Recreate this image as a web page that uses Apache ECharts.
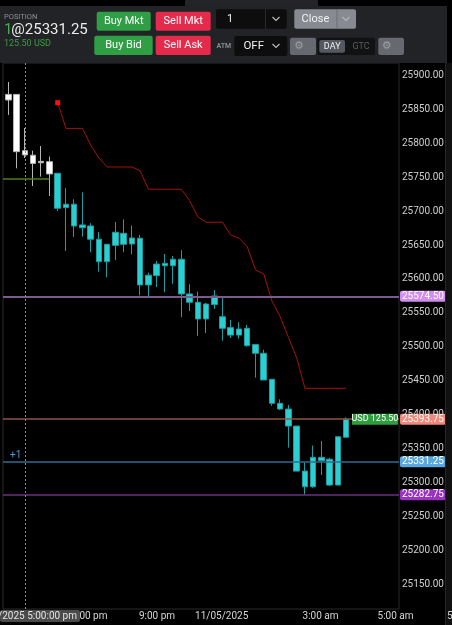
<!DOCTYPE html>
<html>
<head>
<meta charset="utf-8">
<script src="https://cdn.jsdelivr.net/npm/echarts@6/dist/echarts.min.js"></script>
<style>
html, body { margin: 0; padding: 0; background: #000; }
#main { width: 452px; height: 625px; }
</style>
</head>
<body>
<div id="main"></div>
<script>
// bars (15 min), index 0 = first bar on screen
const opens = [25863.25, 25871.5, 25788.75, 25782, 25773, 25772.5, 25755.5, 25710, 25710, 25679.5, 25678, 25658.5, 25651, 25649.5, 25651, 25660.25, 25660, 25605.5, 25605, 25623, 25619.5, 25629, 25578, 25565.75, 25541.25, 25562.5, 25544.5, 25528.5, 25517.5, 25527.5, 25503.5, 25490.75, 25452.5, 25417.25, 25408.75, 25383.75, 25317.5, 25294.5, 25337.75, 25335, 25297, 25367.25]
const closes = [25871.5, 25787.25, 25782.5, 25770, 25771, 25754.5, 25704, 25705, 25678, 25675.5, 25658.5, 25625.5, 25625.5, 25668.75, 25667.25, 25651.5, 25591.25, 25591.25, 25622, 25619.5, 25629, 25578, 25565.75, 25541.25, 25563.25, 25575, 25527.5, 25517.5, 25526.5, 25502, 25490.75, 25451.5, 25417.25, 25408.75, 25383.75, 25317.5, 25294.5, 25337.75, 25332.75, 25297, 25368, 25393.75]
const lows = [25841.25, 25762.75, 25778, 25736.75, 25750.5, 25722, 25700, 25641.25, 25661.75, 25662.25, 25639.25, 25610.75, 25602.5, 25628, 25639.25, 25636.25, 25576, 25574.5, 25588.25, 25580.5, 25593, 25543.75, 25553, 25516.5, 25520.5, 25556, 25509.25, 25513.25, 25512.25, 25500.5, 25455, 25451.5, 25413.75, 25407.5, 25352, 25317.5, 25282.75, 25293, 25311.75, 25295.5, 25297, 25367.25]
const highs = [25889.75, 25872, 25822, 25788.75, 25795.5, 25780, 25755.5, 25733.5, 25717.25, 25727.5, 25682, 25669, 25651, 25683.75, 25687.75, 25678.5, 25664.75, 25609.25, 25626.5, 25636.75, 25633.75, 25642.5, 25592.25, 25581.5, 25565, 25583.75, 25573.5, 25539.75, 25536.25, 25532.5, 25503.5, 25496, 25452.5, 25423, 25414.75, 25383.75, 25330.5, 25355, 25361.75, 25337, 25368, 25396.5]
const whiteBars = 6 // first bars are drawn white

// trailing stop line (red), starts at bar 6
const stopStart = 6
const stopLine = [25859.25, 25821.5, 25821.5, 25821.5, 25797, 25778, 25764.75, 25764.75, 25764.75, 25764.75, 25759.25, 25732, 25732, 25732, 25732, 25732, 25715.5, 25691.5, 25683.5, 25683.5, 25683.5, 25664.75, 25660, 25647.5, 25613.25, 25607.5, 25567.5, 25544.5, 25514.25, 25484, 25439.25, 25439.25, 25439.25, 25439.25, 25439.25, 25439.25]

// price levels
const prevLow = 25574.5
const lastPrice = 25393.75
const entryPrice = 25331.25
const dayLow = 25282.75
const greenLevel = 25747.5
const crossBar = 2

// time labels (bar position -> text)
const xLabelPos = [9.85, 18.05, 25.9, 37.9, 47.0]
const xLabelText = ['7:00 pm', '9:00 pm', '11/05/2025', '3:00 am', '5:00 am']

const X_MIN = -0.64, X_MAX = 47.42
const Y_MIN = 25114.7, Y_MAX = 25917.65

let chart = echarts.init(document.getElementById('main'))

const candles = opens.map((o, i) => [i, o, closes[i], lows[i], highs[i]])
const white = { color: '#ffffff', color0: '#ffffff', borderColor: '#b4b4b4', borderColor0: '#b4b4b4' }

function axisTag (value, bg) {
  return {
    yAxis: value,
    label: {
      show: true, position: 'end', distance: 1,
      formatter: value.toFixed(2),
      color: '#fff', backgroundColor: bg, borderRadius: 2,
      padding: [1, 2, 0, 2], fontSize: 10, fontFamily: 'Roboto', lineHeight: 10
    }
  }
}

// header / ui pieces
const ui = []
function box (x, y, w, h, fill, r) {
  ui.push({ type: 'rect', z: 100, shape: { x: x, y: y, width: w, height: h, r: r || 0 }, style: { fill: fill } })
}
function txt (x, y, text, color, size, align, weight, family) {
  ui.push({
    type: 'text', z: 101, x: x, y: y,
    style: {
      text: text, fill: color,
      font: (weight || 'normal') + ' ' + size + 'px ' + (family || 'Roboto'),
      textAlign: align || 'left', align: align || 'left',
      textVerticalAlign: 'middle', verticalAlign: 'middle'
    }
  })
}
function chevron (cx, cy, color) {
  ui.push({ type: 'polyline', z: 101, shape: { points: [[cx - 3.5, cy - 1.5], [cx, cy + 2], [cx + 3.5, cy - 1.5]] }, style: { stroke: color, lineWidth: 1.2, fill: null } })
}

box(185, 0, 133, 6, '#232427')
box(0, 6, 447, 57, '#222326')
txt(4, 16.8, 'POSITION', '#8f9096', 7.5)
txt(4, 30, '1', '#3fb04c', 15)
txt(11.3, 30, '@25331.25', '#ececec', 15)
txt(4, 44, '125.50 USD', '#3c9c42', 9)
box(96.7, 11.7, 54, 19, '#2f9e45', 2)
txt(123.7, 21.4, 'Buy Mkt', '#ffffff', 11, 'center')
box(155.7, 11.7, 55, 19, '#e42b4b', 2)
txt(183.2, 21.4, 'Sell Mkt', '#ffffff', 11, 'center')
box(94.3, 35.7, 58.4, 19.3, '#2f9e45', 2)
txt(123.5, 45.5, 'Buy Bid', '#ffffff', 11, 'center')
box(155.7, 35.7, 55, 19.3, '#e42b4b', 2)
txt(183.2, 45.5, 'Sell Ask', '#ffffff', 11, 'center')
box(216, 9.3, 70.7, 19.4, '#0d0d0d', 2)
box(265, 9.3, 1, 19.4, '#2a2a2a')
txt(227, 19.2, '1', '#eeeeee', 11)
chevron(276, 18.5, '#bbbbbb')
box(294.3, 9.3, 61.7, 19.4, '#878a90', 2)
box(336.5, 9.3, 1, 19.4, '#6c6f75')
txt(315.4, 19.2, 'Close', '#f2f2f2', 11, 'center')
chevron(346, 18.5, '#b5b8bd')
txt(216.5, 46.7, 'ATM', '#8a8b90', 7, 'left', 'bold')
box(234.3, 36, 53, 20, '#0d0d0d', 2)
txt(253.7, 46.6, 'OFF', '#f0f0f0', 11.5, 'center')
chevron(276, 45.5, '#bbbbbb')
box(290, 37.7, 26, 17.3, '#66696f', 2)
txt(299, 46.3, '⚙', '#9ea1a7', 11, 'center', 'normal', 'DejaVu Sans')
box(317.3, 37.7, 57.7, 17.3, '#111214', 2)
box(319.3, 40, 25.7, 12.7, '#55585e', 2)
txt(332.2, 46.5, 'DAY', '#f0f0f0', 9, 'center')
txt(361, 46.5, 'GTC', '#5b5d61', 9, 'center')
box(378.3, 37.7, 25.7, 17.3, '#66696f', 2)
txt(386.7, 46.3, '⚙', '#9ea1a7', 11, 'center', 'normal', 'DejaVu Sans')
// right strip + crosshair time tag
box(445, 63, 1, 562, '#262626')
box(446, 63, 6, 562, '#111111')
box(0, 610, 80, 12, '#4b4b4b', 2)
txt(77, 616.3, '11/04/2025 5:00:00 pm', '#e2e2e2', 10, 'right')
txt(447, 616.3, '5', '#cfcfcf', 10)

const option = {
  backgroundColor: '#000',
  animation: false,
  grid: { left: 3, right: 53, top: 63, bottom: 16, show: true, borderColor: '#2b2b2b', borderWidth: 1 },
  xAxis: {
    type: 'value', min: X_MIN, max: X_MAX,
    axisLine: { show: false }, axisTick: { show: false }, splitLine: { show: false },
    axisLabel: {
      customValues: xLabelPos,
      formatter: function (v) {
        let k = xLabelPos.findIndex(p => Math.abs(p - v) < 0.01)
        return k >= 0 ? xLabelText[k] : ''
      },
      color: '#d6d6d6', fontSize: 10, fontFamily: 'Roboto', margin: 2
    }
  },
  yAxis: {
    type: 'value', position: 'right', min: Y_MIN, max: Y_MAX, minInterval: 50, maxInterval: 50,
    axisLine: { show: false }, axisTick: { show: false }, splitLine: { show: false },
    axisLabel: {
      color: '#cfcfcf', fontSize: 10, fontFamily: 'Roboto', margin: 3,
      showMinLabel: false, showMaxLabel: false,
      formatter: v => v.toFixed(2)
    }
  },
  graphic: { elements: ui },
  series: [
    {
      type: 'candlestick',
      barWidth: 6,
      data: candles.map((d, i) => i < whiteBars ? { value: d, itemStyle: white } : d),
      itemStyle: { color: '#2bcfd2', color0: '#2bcfd2', borderColor: '#1c9da2', borderColor0: '#1c9da2', borderWidth: 1 },
      markLine: {
        symbol: ['none', 'none'], silent: true, animation: false,
        label: { show: false },
        data: [
          Object.assign(axisTag(prevLow, '#d38cf0'), { lineStyle: { color: '#7b5a8e', width: 2, type: 'solid' } }),
          Object.assign(axisTag(lastPrice, '#f2887a'), { lineStyle: { color: '#8c5546', width: 1.5, type: 'solid' } }),
          Object.assign(axisTag(entryPrice, '#5aa8de'), { lineStyle: { color: '#2f6b91', width: 1.5, type: 'solid' } }),
          Object.assign(axisTag(dayLow, '#9a33c2'), { lineStyle: { color: '#6b2f82', width: 1.5, type: 'solid' } }),
          { xAxis: crossBar, lineStyle: { color: '#8a8a8a', width: 1, type: [2, 2] }, label: { show: false } },
          [
            { coord: [X_MIN, greenLevel], lineStyle: { color: '#4d7f1f', width: 1.5, type: 'solid' }, label: { show: false } },
            { coord: [whiteBars - 1, greenLevel], lineStyle: { color: '#4d7f1f', width: 1.5, type: 'solid' } }
          ]
        ]
      },
      markPoint: {
        silent: true, animation: false,
        data: [
          {
            coord: [44.5, lastPrice], symbol: 'rect', symbolSize: [46, 11],
            itemStyle: { color: '#2f9e3f' },
            label: { show: true, position: 'inside', formatter: 'USD 125.50', color: '#fff', fontSize: 9, fontFamily: 'Roboto' }
          },
          {
            coord: [0.91, entryPrice], symbol: 'rect', symbolSize: [12, 8], symbolOffset: [0, -6],
            itemStyle: { color: 'rgba(0,0,0,0)' },
            label: { show: true, position: 'inside', formatter: '+1', color: '#4d9bd6', fontSize: 10, fontFamily: 'Roboto' }
          }
        ]
      }
    },
    {
      type: 'line',
      data: stopLine.map((v, i) => [stopStart + i, v]),
      symbol: 'none',
      lineStyle: { color: '#a51408', width: 1 },
      markPoint: {
        silent: true, animation: false,
        data: [{ coord: [stopStart, stopLine[0]], symbol: 'rect', symbolSize: 5, itemStyle: { color: '#ff1010' }, label: { show: false } }]
      }
    }
  ]
}

chart.setOption(option)
window.onresize = function () {
  chart.resize()
}
</script>
</body>
</html>
